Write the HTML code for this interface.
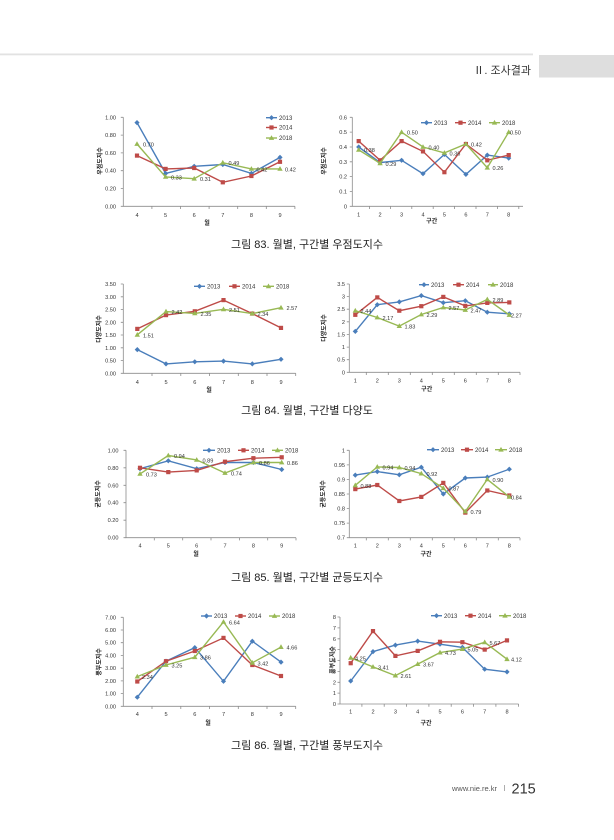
<!DOCTYPE html>
<html><head><meta charset="utf-8"><style>
html,body{margin:0;padding:0;background:#fff;}
svg{display:block;}
text{font-family:"Liberation Sans","Noto Sans CJK KR",sans-serif;}
.t{font-size:5.6px;fill:#333;}
.l{font-size:5.6px;fill:#333;}
.lg{font-size:6px;fill:#333;}
.yt{font-size:6px;fill:#222;font-weight:bold;}
.ax{stroke:#8c8c8c;stroke-width:0.8;fill:none;}
.s13{stroke:#4A7EBB;stroke-width:1.4;fill:none;marker-start:url(#md);marker-mid:url(#md);marker-end:url(#md);}
.s14{stroke:#BE4B48;stroke-width:1.4;fill:none;marker-start:url(#ms);marker-mid:url(#ms);marker-end:url(#ms);}
.s18{stroke:#98B954;stroke-width:1.4;fill:none;marker-start:url(#mt);marker-mid:url(#mt);marker-end:url(#mt);}
.lgd{marker-start:none;marker-end:none;}
.cap{font-size:11px;fill:#222;}
</style></head><body>
<svg width="614" height="840" viewBox="0 0 614 840" xmlns="http://www.w3.org/2000/svg">
<defs>
<marker id="md" markerUnits="userSpaceOnUse" markerWidth="8" markerHeight="8" refX="4" refY="4" overflow="visible"><path d="M4,1.4L6.6,4L4,6.6L1.4,4Z" fill="#4A7EBB"/></marker>
<marker id="ms" markerUnits="userSpaceOnUse" markerWidth="8" markerHeight="8" refX="4" refY="4" overflow="visible"><rect x="1.9" y="1.9" width="4.2" height="4.2" fill="#BE4B48"/></marker>
<marker id="mt" markerUnits="userSpaceOnUse" markerWidth="8" markerHeight="8" refX="4" refY="4" overflow="visible"><path d="M4,1.2L6.7,5.9L1.3,5.9Z" fill="#98B954"/></marker>
</defs>
<rect width="614" height="840" fill="#fff"/>
<!-- header -->
<rect x="0" y="53.5" width="533" height="1.8" fill="#e2e2e2"/>
<rect x="539" y="55" width="75" height="22.5" fill="#dedede"/>
<text x="531" y="74" text-anchor="end" style="font-size:11px;fill:#333;">Ⅱ. 조사결과</text>

<!-- ============ Chart 1 ============ -->
<g>
<path class="ax" d="M123.3,117.3V206.3H294.9"/>
<path class="ax" d="M120.8,117.3H123.3M120.8,135.1H123.3M120.8,152.9H123.3M120.8,170.7H123.3M120.8,188.5H123.3M120.8,206.3H123.3M151.9,206.3V209M180.5,206.3V209M209.1,206.3V209M237.7,206.3V209M266.3,206.3V209M294.9,206.3V209"/>
<g class="t" text-anchor="end"><text x="116" y="119.3">1.00</text><text x="116" y="137.1">0.80</text><text x="116" y="154.9">0.60</text><text x="116" y="172.7">0.40</text><text x="116" y="190.5">0.20</text><text x="116" y="208.3">0.00</text></g>
<g class="t" text-anchor="middle"><text x="137" y="217">4</text><text x="165.6" y="217">5</text><text x="194.2" y="217">6</text><text x="222.8" y="217">7</text><text x="251.4" y="217">8</text><text x="280" y="217">9</text></g>
<text class="yt" transform="translate(102,161) rotate(-90)" text-anchor="middle">우점도지수</text>
<text class="yt" x="207" y="225" text-anchor="middle">월</text>
<polyline class="s13" points="137,122.6 165.6,173.4 194.2,166.3 222.8,164.5 251.4,173.4 280,157.4"/>
<polyline class="s14" points="137,155.6 165.6,168.9 194.2,168 222.8,182.3 251.4,176 280,161.8"/>
<polyline class="s18" points="137,144 165.6,176.9 194.2,178.7 222.8,162.7 251.4,168.9 280,168.9"/>
<g class="l"><text x="143" y="146.5">0.70</text><text x="171" y="179.5">0.33</text><text x="200" y="181.2">0.31</text><text x="228.5" y="165.2">0.49</text><text x="256.5" y="171.4">0.42</text><text x="285" y="171.4">0.42</text></g>
<polyline class="s13 lgd" points="266,117.7 271.5,117.7 277,117.7"/><text class="lg" x="279" y="119.8">2013</text>
<polyline class="s14 lgd" points="266,127.5 271.5,127.5 277,127.5"/><text class="lg" x="279" y="129.6">2014</text>
<polyline class="s18 lgd" points="266,138 271.5,138 277,138"/><text class="lg" x="279" y="140.1">2018</text>
</g>

<!-- ============ Chart 2 ============ -->
<g>
<path class="ax" d="M352.3,117.3V206.3H523"/>
<path class="ax" d="M349.8,117.3H352.3M349.8,132.1H352.3M349.8,147H352.3M349.8,161.8H352.3M349.8,176.6H352.3M349.8,191.5H352.3M349.8,206.3H352.3M369.4,206.3V209M390.4,206.3V209M411.8,206.3V209M433.2,206.3V209M454.6,206.3V209M476,206.3V209M497.4,206.3V209M518.8,206.3V209"/>
<g class="t" text-anchor="end"><text x="347" y="119.3">0.6</text><text x="347" y="134.1">0.5</text><text x="347" y="149">0.4</text><text x="347" y="163.8">0.3</text><text x="347" y="178.6">0.2</text><text x="347" y="193.5">0.1</text><text x="347" y="208.3">0</text></g>
<g class="t" text-anchor="middle"><text x="358.7" y="216.3">1</text><text x="380.1" y="216.3">2</text><text x="401.6" y="216.3">3</text><text x="423" y="216.3">4</text><text x="444.4" y="216.3">5</text><text x="465.9" y="216.3">6</text><text x="487.3" y="216.3">7</text><text x="508.7" y="216.3">8</text></g>
<text class="yt" transform="translate(326,161) rotate(-90)" text-anchor="middle">우점도지수</text>
<text class="yt" x="431.7" y="223" text-anchor="middle">구간</text>
<polyline class="s13" points="358.7,147 380.1,162.6 401.6,160.3 423,173.7 444.4,154.4 465.9,174.4 487.3,155.1 508.7,158.1"/>
<polyline class="s14" points="358.7,141.1 380.1,160.3 401.6,141.1 423,151.4 444.4,172.2 465.9,144 487.3,160.3 508.7,155.1"/>
<polyline class="s18" points="358.7,149.9 380.1,163.3 401.6,132.2 423,147 444.4,152.9 465.9,144 487.3,167.7 508.7,132.2"/>
<g class="l"><text x="364" y="152">0.38</text><text x="385.5" y="166">0.29</text><text x="407" y="134.7">0.50</text><text x="428.5" y="149.5">0.40</text><text x="449.5" y="155.4">0.36</text><text x="471" y="146.5">0.42</text><text x="492.5" y="170.2">0.26</text><text x="510" y="134.7">0.50</text></g>
<polyline class="s13 lgd" points="421,122.7 426.5,122.7 432,122.7"/><text class="lg" x="434" y="124.8">2013</text>
<polyline class="s14 lgd" points="455,122.7 460.5,122.7 466,122.7"/><text class="lg" x="468" y="124.8">2014</text>
<polyline class="s18 lgd" points="489,122.7 494.5,122.7 500,122.7"/><text class="lg" x="502" y="124.8">2018</text>
</g>
<text class="cap" x="307" y="248" text-anchor="middle">그림 83. 월별, 구간별 우점도지수</text>

<!-- ============ Chart 3 ============ -->
<g>
<path class="ax" d="M123.3,284V373.3H295.7"/>
<path class="ax" d="M120.8,284H123.3M120.8,296.8H123.3M120.8,309.5H123.3M120.8,322.3H123.3M120.8,335H123.3M120.8,347.8H123.3M120.8,360.5H123.3M120.8,373.3H123.3M152,373.3V376M180.8,373.3V376M209.5,373.3V376M238.3,373.3V376M267,373.3V376M295.7,373.3V376"/>
<g class="t" text-anchor="end"><text x="116" y="286">3.50</text><text x="116" y="298.8">3.00</text><text x="116" y="311.5">2.50</text><text x="116" y="324.3">2.00</text><text x="116" y="337">1.50</text><text x="116" y="349.8">1.00</text><text x="116" y="362.5">0.50</text><text x="116" y="375.3">0.00</text></g>
<g class="t" text-anchor="middle"><text x="137.3" y="384">4</text><text x="166" y="384">5</text><text x="194.8" y="384">6</text><text x="223.5" y="384">7</text><text x="252.3" y="384">8</text><text x="281" y="384">9</text></g>
<text class="yt" transform="translate(101,329) rotate(-90)" text-anchor="middle">다양도지수</text>
<text class="yt" x="209" y="392" text-anchor="middle">월</text>
<polyline class="s13" points="137.3,349.6 166,363.9 194.8,361.8 223.5,361.1 252.3,363.9 281,359.3"/>
<polyline class="s14" points="137.3,328.9 166,315.1 194.8,311.3 223.5,300.1 252.3,313.6 281,327.9"/>
<polyline class="s18" points="137.3,334.8 166,311.6 194.8,313.4 223.5,309.3 252.3,313.6 281,307.7"/>
<g class="l"><text x="143" y="337.3">1.51</text><text x="171.5" y="314.1">2.42</text><text x="200.5" y="315.9">2.35</text><text x="229" y="311.8">2.51</text><text x="257.5" y="316.1">2.34</text><text x="286.5" y="310.2">2.57</text></g>
<polyline class="s13 lgd" points="194,286.3 199.5,286.3 205,286.3"/><text class="lg" x="207" y="288.4">2013</text>
<polyline class="s14 lgd" points="229,286.3 234.5,286.3 240,286.3"/><text class="lg" x="242" y="288.4">2014</text>
<polyline class="s18 lgd" points="263,286.3 268.5,286.3 274,286.3"/><text class="lg" x="276" y="288.4">2018</text>
</g>

<!-- ============ Chart 4 ============ -->
<g>
<path class="ax" d="M349.3,284V372.3H520"/>
<path class="ax" d="M346.8,284H349.3M346.8,296.6H349.3M346.8,309.2H349.3M346.8,321.8H349.3M346.8,334.4H349.3M346.8,347.1H349.3M346.8,359.7H349.3M346.8,372.3H349.3M366.3,372.3V375M388.3,372.3V375M410.3,372.3V375M432.3,372.3V375M454.3,372.3V375M476.3,372.3V375M498.3,372.3V375M520,372.3V375"/>
<g class="t" text-anchor="end"><text x="345" y="286">3.5</text><text x="345" y="298.6">3</text><text x="345" y="311.2">2.5</text><text x="345" y="323.8">2</text><text x="345" y="336.4">1.5</text><text x="345" y="349.1">1</text><text x="345" y="361.7">0.5</text><text x="345" y="374.3">0</text></g>
<g class="t" text-anchor="middle"><text x="355.3" y="382.7">1</text><text x="377.3" y="382.7">2</text><text x="399.3" y="382.7">3</text><text x="421.3" y="382.7">4</text><text x="443.3" y="382.7">5</text><text x="465.3" y="382.7">6</text><text x="487.3" y="382.7">7</text><text x="509.3" y="382.7">8</text></g>
<text class="yt" transform="translate(326,328) rotate(-90)" text-anchor="middle">다양도지수</text>
<text class="yt" x="426.7" y="391" text-anchor="middle">구간</text>
<polyline class="s13" points="355.3,331.4 377.3,304.7 399.3,301.9 421.3,295.6 443.3,302.7 465.3,300.7 487.3,312.2 509.3,313.8"/>
<polyline class="s14" points="355.3,314.8 377.3,297.4 399.3,310.7 421.3,306.2 443.3,296.9 465.3,305.9 487.3,302.9 509.3,302.4"/>
<polyline class="s18" points="355.3,310.7 377.3,317.5 399.3,326.1 421.3,314.5 443.3,307.5 465.3,310 487.3,299.4 509.3,315"/>
<g class="l"><text x="360.5" y="313.2">2.44</text><text x="382.5" y="320">2.17</text><text x="404.5" y="328.6">1.83</text><text x="426.5" y="317">2.29</text><text x="448.5" y="310">2.57</text><text x="470.5" y="312.5">2.47</text><text x="492.5" y="301.9">2.89</text><text x="511" y="317.5">2.27</text></g>
<polyline class="s13 lgd" points="419,284.7 424,284.7 429,284.7"/><text class="lg" x="431" y="286.8">2013</text>
<polyline class="s14 lgd" points="453,284.7 458.5,284.7 464,284.7"/><text class="lg" x="466" y="286.8">2014</text>
<polyline class="s18 lgd" points="488,284.7 493,284.7 498,284.7"/><text class="lg" x="500" y="286.8">2018</text>
</g>
<text class="cap" x="307" y="414" text-anchor="middle">그림 84. 월별, 구간별 다양도</text>

<!-- ============ Chart 5 ============ -->
<g>
<path class="ax" d="M126,450.3V537.7H296"/>
<path class="ax" d="M123.5,450.3H126M123.5,467.8H126M123.5,485.3H126M123.5,502.7H126M123.5,520.2H126M123.5,537.7H126M154.3,537.7V540.4M182.7,537.7V540.4M211,537.7V540.4M239.4,537.7V540.4M267.7,537.7V540.4M296,537.7V540.4"/>
<g class="t" text-anchor="end"><text x="118.5" y="452.3">1.00</text><text x="118.5" y="469.8">0.80</text><text x="118.5" y="487.3">0.60</text><text x="118.5" y="504.7">0.40</text><text x="118.5" y="522.2">0.20</text><text x="118.5" y="539.7">0.00</text></g>
<g class="t" text-anchor="middle"><text x="140" y="547.3">4</text><text x="168.3" y="547.3">5</text><text x="196.7" y="547.3">6</text><text x="225" y="547.3">7</text><text x="253.4" y="547.3">8</text><text x="281.7" y="547.3">9</text></g>
<text class="yt" transform="translate(100,494) rotate(-90)" text-anchor="middle">균등도지수</text>
<text class="yt" x="196" y="556" text-anchor="middle">월</text>
<polyline class="s13" points="140,468.7 168.3,460.8 196.7,468.7 225,462.5 253.4,462.5 281.7,469.5"/>
<polyline class="s14" points="140,467.8 168.3,472.1 196.7,470.4 225,461.7 253.4,458.2 281.7,457.3"/>
<polyline class="s18" points="140,473.9 168.3,455.5 196.7,459.9 225,473 253.4,462.5 281.7,462.5"/>
<g class="l"><text x="146" y="476.4">0.73</text><text x="174" y="458">0.94</text><text x="202.5" y="462.4">0.89</text><text x="231" y="475.5">0.74</text><text x="259" y="465">0.86</text><text x="287" y="465">0.86</text></g>
<polyline class="s13 lgd" points="203,450.3 209,450.3 215,450.3"/><text class="lg" x="217" y="452.4">2013</text>
<polyline class="s14 lgd" points="238,450.3 243.5,450.3 249,450.3"/><text class="lg" x="251" y="452.4">2014</text>
<polyline class="s18 lgd" points="272,450.3 277.5,450.3 283,450.3"/><text class="lg" x="285" y="452.4">2018</text>
</g>

<!-- ============ Chart 6 ============ -->
<g>
<path class="ax" d="M349.3,450.3V537.7H520"/>
<path class="ax" d="M346.8,450.3H349.3M346.8,464.9H349.3M346.8,479.4H349.3M346.8,494H349.3M346.8,508.6H349.3M346.8,523.1H349.3M346.8,537.7H349.3M366.3,537.7V540.4M388.3,537.7V540.4M410.3,537.7V540.4M432.3,537.7V540.4M454.3,537.7V540.4M476.3,537.7V540.4M498.3,537.7V540.4M520,537.7V540.4"/>
<g class="t" text-anchor="end"><text x="345" y="452.3">1</text><text x="345" y="466.9">0.95</text><text x="345" y="481.4">0.9</text><text x="345" y="496">0.85</text><text x="345" y="510.6">0.8</text><text x="345" y="525.1">0.75</text><text x="345" y="539.7">0.7</text></g>
<g class="t" text-anchor="middle"><text x="355.3" y="547.7">1</text><text x="377.3" y="547.7">2</text><text x="399.3" y="547.7">3</text><text x="421.3" y="547.7">4</text><text x="443.3" y="547.7">5</text><text x="465.3" y="547.7">6</text><text x="487.3" y="547.7">7</text><text x="509.3" y="547.7">8</text></g>
<text class="yt" transform="translate(325,494) rotate(-90)" text-anchor="middle">균등도지수</text>
<text class="yt" x="426" y="556" text-anchor="middle">구간</text>
<polyline class="s13" points="355.3,475.1 377.3,471.6 399.3,474.8 421.3,467.2 443.3,494 465.3,478 487.3,477.1 509.3,469.2"/>
<polyline class="s14" points="355.3,489.1 377.3,485 399.3,501 421.3,496.9 443.3,482.9 465.3,512.6 487.3,490.5 509.3,495.5"/>
<polyline class="s18" points="355.3,485.3 377.3,466.9 399.3,467.5 421.3,473.6 443.3,488.2 465.3,511.5 487.3,479.4 509.3,496.9"/>
<g class="l"><text x="360.5" y="487.8">0.88</text><text x="382.5" y="469.4">0.94</text><text x="404.5" y="470">0.94</text><text x="426.5" y="476.1">0.92</text><text x="448.5" y="490.7">0.87</text><text x="470.5" y="514">0.79</text><text x="492.5" y="481.9">0.90</text><text x="511" y="499.4">0.84</text></g>
<polyline class="s13 lgd" points="427,449.7 433,449.7 439,449.7"/><text class="lg" x="441" y="451.8">2013</text>
<polyline class="s14 lgd" points="461,449.7 467,449.7 473,449.7"/><text class="lg" x="475" y="451.8">2014</text>
<polyline class="s18 lgd" points="495,449.7 501,449.7 507,449.7"/><text class="lg" x="509" y="451.8">2018</text>
</g>
<text class="cap" x="307" y="581" text-anchor="middle">그림 85. 월별, 구간별 균등도지수</text>

<!-- ============ Chart 7 ============ -->
<g>
<path class="ax" d="M123.3,617.3V706.3H295.7"/>
<path class="ax" d="M120.8,617.3H123.3M120.8,630H123.3M120.8,642.7H123.3M120.8,655.4H123.3M120.8,668.2H123.3M120.8,680.9H123.3M120.8,693.6H123.3M120.8,706.3H123.3M152,706.3V709M180.8,706.3V709M209.5,706.3V709M238.3,706.3V709M267,706.3V709M295.7,706.3V709"/>
<g class="t" text-anchor="end"><text x="116" y="619.3">7.00</text><text x="116" y="632">6.00</text><text x="116" y="644.7">5.00</text><text x="116" y="657.4">4.00</text><text x="116" y="670.2">3.00</text><text x="116" y="682.9">2.00</text><text x="116" y="695.6">1.00</text><text x="116" y="708.3">0.00</text></g>
<g class="t" text-anchor="middle"><text x="137.3" y="716">4</text><text x="166" y="716">5</text><text x="194.8" y="716">6</text><text x="223.5" y="716">7</text><text x="252.3" y="716">8</text><text x="281" y="716">9</text></g>
<text class="yt" transform="translate(101,662) rotate(-90)" text-anchor="middle">풍부도지수</text>
<text class="yt" x="208" y="725" text-anchor="middle">월</text>
<polyline class="s13" points="137.3,697.2 166,661.2 194.8,647.6 223.5,681.3 252.3,641.2 281,662.1"/>
<polyline class="s14" points="137.3,681.5 166,661.2 194.8,651 223.5,637.9 252.3,665 281,676"/>
<polyline class="s18" points="137.3,676.6 166,665 194.8,657.2 223.5,621.9 252.3,662.8 281,647.1"/>
<g class="l"><text x="142" y="679.1">2.34</text><text x="171.5" y="667.5">3.25</text><text x="200" y="659.7">3.86</text><text x="229" y="624.4">6.64</text><text x="257.5" y="665.3">3.42</text><text x="286.5" y="649.6">4.66</text></g>
<polyline class="s13 lgd" points="201,616 206.5,616 212,616"/><text class="lg" x="214" y="618.1">2013</text>
<polyline class="s14 lgd" points="235,616 240.5,616 246,616"/><text class="lg" x="248" y="618.1">2014</text>
<polyline class="s18 lgd" points="269,616 274.5,616 280,616"/><text class="lg" x="282" y="618.1">2018</text>
</g>

<!-- ============ Chart 8 ============ -->
<g>
<path class="ax" d="M340,617V704H518.6"/>
<path class="ax" d="M337.5,617H340M337.5,627.9H340M337.5,638.8H340M337.5,649.6H340M337.5,660.5H340M337.5,671.4H340M337.5,682.3H340M337.5,693.1H340M337.5,704H340M361.9,704V706.7M384.2,704V706.7M406.6,704V706.7M428.9,704V706.7M451.2,704V706.7M473.6,704V706.7M495.9,704V706.7M518.6,704V706.7"/>
<g class="t" text-anchor="end"><text x="336" y="619">8</text><text x="336" y="629.9">7</text><text x="336" y="640.8">6</text><text x="336" y="651.6">5</text><text x="336" y="662.5">4</text><text x="336" y="673.4">3</text><text x="336" y="684.3">2</text><text x="336" y="695.1">1</text><text x="336" y="706">0</text></g>
<g class="t" text-anchor="middle"><text x="350.7" y="713.7">1</text><text x="373" y="713.7">2</text><text x="395.4" y="713.7">3</text><text x="417.7" y="713.7">4</text><text x="440" y="713.7">5</text><text x="462.4" y="713.7">6</text><text x="484.7" y="713.7">7</text><text x="507" y="713.7">8</text></g>
<text class="yt" transform="translate(334.5,660) rotate(-90)" text-anchor="middle">풍부도지수</text>
<text class="yt" x="426" y="725" text-anchor="middle">구간</text>
<polyline class="s13" points="350.7,681 373,651.6 395.4,645.1 417.7,641.1 440,644.2 462.4,647.4 484.7,669.2 507,671.9"/>
<polyline class="s14" points="350.7,663.2 373,631.1 395.4,655.9 417.7,650.9 440,641.8 462.4,642.2 484.7,649.6 507,640.4"/>
<polyline class="s18" points="350.7,657.8 373,666.9 395.4,675.6 417.7,664.1 440,652.6 462.4,649.1 484.7,642.3 507,659.2"/>
<g class="l"><text x="355" y="660.3">4.25</text><text x="378" y="669.4">3.41</text><text x="400.5" y="678.1">2.61</text><text x="423" y="666.6">3.67</text><text x="445" y="655.1">4.73</text><text x="467.5" y="651.6">5.05</text><text x="489.5" y="644.8">5.67</text><text x="511" y="661.7">4.12</text></g>
<polyline class="s13 lgd" points="431,615.7 436.5,615.7 442,615.7"/><text class="lg" x="444" y="617.8">2013</text>
<polyline class="s14 lgd" points="465,615.7 470.5,615.7 476,615.7"/><text class="lg" x="478" y="617.8">2014</text>
<polyline class="s18 lgd" points="499,615.7 505,615.7 511,615.7"/><text class="lg" x="513" y="617.8">2018</text>
</g>
<text class="cap" x="307" y="749" text-anchor="middle">그림 86. 월별, 구간별 풍부도지수</text>

<!-- footer -->
<text x="452" y="791" style="font-size:7.5px;fill:#555;">www.nie.re.kr</text>
<rect x="504" y="785" width="0.8" height="6" fill="#999"/>
<text x="511.5" y="793.5" style="font-size:14.5px;fill:#333;">215</text>
</svg>
</body></html>
